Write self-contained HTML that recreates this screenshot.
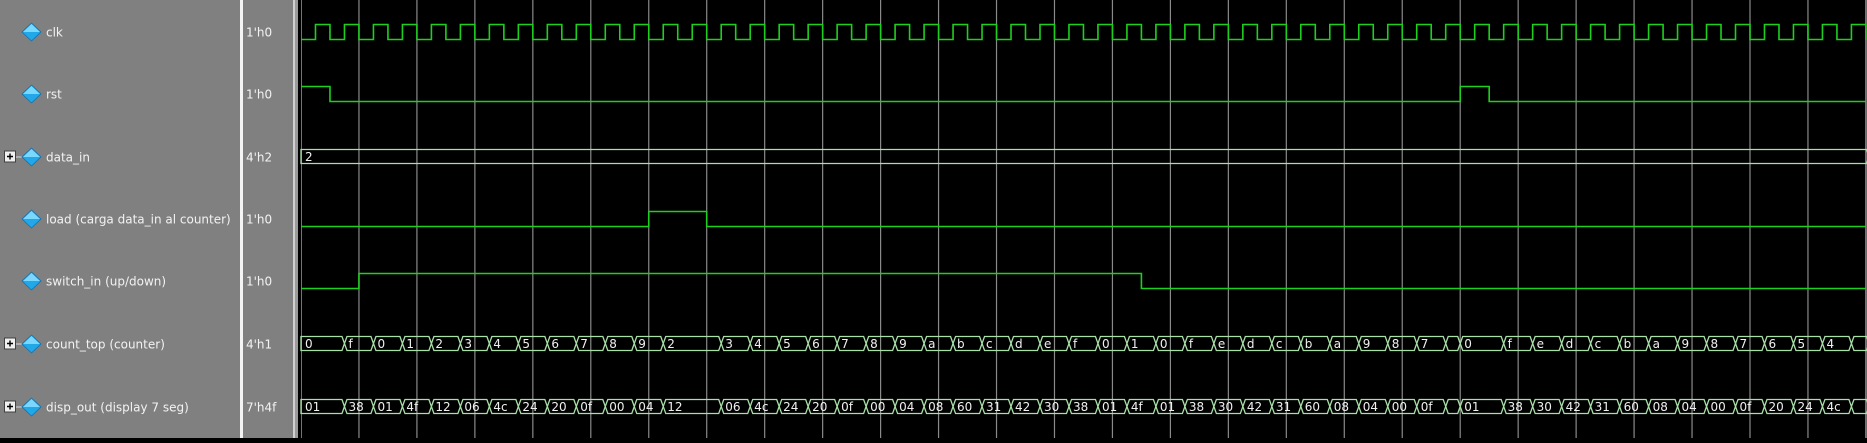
<!DOCTYPE html>
<html><head><meta charset="utf-8"><style>
html,body{margin:0;padding:0;background:#000;}
body{width:1867px;height:438px;overflow:hidden;}
svg text{font-family:"DejaVu Sans","Liberation Sans",sans-serif;}
</style></head><body>
<svg id="w" width="1867" height="438" xmlns="http://www.w3.org/2000/svg">
<rect x="0" y="0" width="240" height="438" fill="#808080"/>
<rect x="240" y="0" width="3" height="438" fill="#f4f4f4"/>
<rect x="243" y="0" width="50" height="438" fill="#808080"/>
<rect x="293" y="0" width="2" height="438" fill="#d0d0d0"/>
<rect x="295" y="0" width="3" height="438" fill="#9a9a9a"/>
<rect x="298" y="0" width="1569" height="438" fill="#000"/>
<g id="grid"></g>
<g id="waves"></g>
<g id="names"></g>
</svg>
<script>
// time unit = half clock period
var names = ["clk","rst","data_in","load (carga data_in al counter)","switch_in (up/down)","count_top (counter)","disp_out (display 7 seg)"];
var curValues = ["1'h0","1'h0","4'h2","1'h0","1'h0","4'h1","7'h4f"];
var isBus = [false,false,true,false,false,true,true];
var rowTops = [24,86,149,211,273,336,399];
var rstEdges = [0,2,80,82];          // high/low toggle times, starting high
var loadEdges = [24,28];              // starting low
var switchEdges = [4,58];             // starting low
var dataTimes = [0];
var dataVals = ["2"];
var countTimes = [0,3,5,7,9,11,13,15,17,19,21,23,25,29,31,33,35,37,39,41,43,45,47,49,51,53,55,57,59,61,63,65,67,69,71,73,75,77,79,80,83,85,87,89,91,93,95,97,99,101,103,105,107];
var countVals = ["0","f","0","1","2","3","4","5","6","7","8","9","2","3","4","5","6","7","8","9","a","b","c","d","e","f","0","1","0","f","e","d","c","b","a","9","8","7","","0","f","e","d","c","b","a","9","8","7","6","5","4",""];
var dispVals = ["01","38","01","4f","12","06","4c","24","20","0f","00","04","12","06","4c","24","20","0f","00","04","08","60","31","42","30","38","01","4f","01","38","30","42","31","60","08","04","00","0f","","01","38","30","42","31","60","08","04","00","0f","20","24","4c",""];
var tEnd = 108.1;

var X0 = 301, UNIT = 14.49, XMAX = 1866;
function xs(t){ return Math.min(XMAX, X0 + t*UNIT); }
var NS = "http://www.w3.org/2000/svg";
function mk(tag, attrs, parent){ var e=document.createElementNS(NS,tag); for(var k in attrs) e.setAttribute(k,attrs[k]); parent.appendChild(e); return e; }
var grid=document.getElementById('grid'), waves=document.getElementById('waves'), namesG=document.getElementById('names');

for (var t=4; xs(t)<XMAX; t+=4){
  var gl = mk('line',{x1:xs(t),x2:xs(t),y1:0,y2:438,stroke:'#8a8a8a','stroke-width':1.2},grid);
  
  
}
var edgeL = mk('line',{x1:301.5,x2:301.5,y1:0,y2:438,stroke:'#6a7a6a','stroke-width':1},grid);


var edgeR = mk('line',{x1:1866,x2:1866,y1:0,y2:438,stroke:'#8a8a8a','stroke-width':1.5},grid);



function bitWave(row, edges, startHigh, name){
  var hi=rowTops[row]+0.5, lo=rowTops[row]+15.5, lvl=startHigh;
  var d='M'+xs(0)+','+(lvl?hi:lo);
  edges.forEach(function(t){ if(t===0) return; var x=xs(t); d+=' L'+x+','+(lvl?hi:lo); lvl=!lvl; d+=' L'+x+','+(lvl?hi:lo); });
  d+=' L'+XMAX+','+(lvl?hi:lo);
  var p=mk('path',{d:d,fill:'none',stroke:'#1ed01e','stroke-width':1.6},waves);
  
  
}
var clkEdges=[]; for(var t=1;t<tEnd;t++) clkEdges.push(t);
bitWave(0, clkEdges, false, 'clk-wave');
var rstToggle = rstEdges.slice(1);
bitWave(1, rstToggle, true, 'rst-wave');
bitWave(3, loadEdges, false, 'load-wave');
bitWave(4, switchEdges, false, 'switch-in-wave');

function busWave(row, times, vals, name){
  var top=rowTops[row]+0.5, bot=rowTops[row]+14.5, mid=(top+bot)/2;
  for(var i=0;i<times.length;i++){
    var x0=xs(times[i]), x1=(i+1<times.length)?xs(times[i+1]):XMAX+3;
    var a0 = times[i]===0?0:2.5;
    var d='M'+(x0+a0)+','+top+' L'+(x1-2.5)+','+top+' L'+x1+','+mid+' L'+(x1-2.5)+','+bot+' L'+(x0+a0)+','+bot+' L'+x0+','+mid+' Z';
    var p=mk('path',{d:d,fill:'none',stroke:'#a8e0a8','stroke-width':1.3},waves);
    
    
    if(vals[i]){
      var tx=mk('text',{x:x0+4,y:bot-2.5,fill:'#f0f0f0','font-size':'12'},waves);
      tx.textContent=vals[i];
      
      
    }
  }
}
busWave(2, dataTimes, dataVals, 'data-in');
busWave(5, countTimes, countVals, 'count-top');
busWave(6, countTimes, dispVals, 'disp-out');

for(var r=0;r<names.length;r++){
  var cy=rowTops[r]+8;
  if(isBus[r]){
    var b=mk('rect',{x:4.5,y:cy-6,width:11,height:11,fill:'#f0f0f0',stroke:'#404040','stroke-width':1},namesG);
    
    
    var pl=mk('path',{d:'M7,'+(cy-0.5)+' H13 M10,'+(cy-3.5)+' V'+(cy+2.5),stroke:'#000','stroke-width':1.4},namesG);
    
    
    var ln=mk('line',{x1:16,x2:23,y1:cy,y2:cy,stroke:'#d8d8d8','stroke-width':1},namesG);
    
    
  }
  var dia=mk('path',{d:'M31.5,'+(cy-9)+' L41,'+cy+' L31.5,'+(cy+9)+' L22,'+cy+' Z',fill:'#22a8e8',stroke:'#1070b0','stroke-width':0.8},namesG);
  
  
  var hl=mk('path',{d:'M31.5,'+(cy-8)+' L40,'+cy+' L31.5,'+cy+' L23,'+cy+' Z',fill:'#7ad8ff'},namesG);
  
  
  var nt=mk('text',{x:46,y:cy+4.5,fill:'#f2f2f2','font-size':'12'},namesG);
  nt.textContent=names[r];
  
  
  var vt=mk('text',{x:246,y:cy+4.5,fill:'#f2f2f2','font-size':'12'},namesG);
  vt.textContent=curValues[r];
  
  
}
</script>
</body></html>
